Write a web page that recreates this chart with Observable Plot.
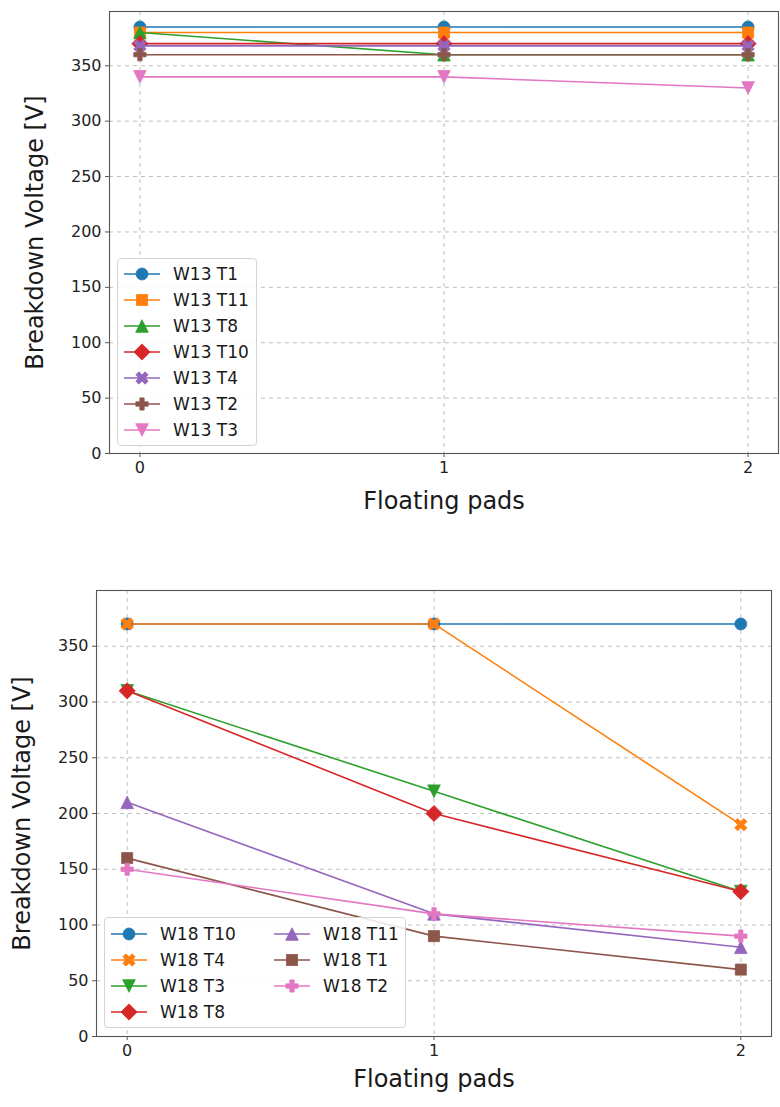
<!DOCTYPE html>
<html>
<head>
<meta charset="utf-8">
<script src="https://cdn.jsdelivr.net/npm/d3@7"></script>
<script src="https://cdn.jsdelivr.net/npm/@observablehq/plot@0.6"></script>
<style>
  html, body { margin: 0; padding: 0; background: white; }
  #root { position: relative; width: 780px; height: 1107px; font-family: "DejaVu Sans", sans-serif; }
  .panel { position: absolute; left: 0; }
  .legend { position: absolute; border: 1px solid #d4d4d4; border-radius: 4px; background: rgba(255,255,255,0.85); box-sizing: border-box; }
  .lrow { position: absolute; height: 24px; display: flex; align-items: center; font-size: 17px; color: #1a1a1a; white-space: nowrap; }
  .lrow svg { display: block; }
</style>
</head>
<body>
<div id="root"></div>
<script>
// ---------- data ----------
const floatingPads = [0, 1, 2];
const xTicks = [0, 1, 2];
const yTicks = [0, 50, 100, 150, 200, 250, 300, 350];
const yLabel = "Breakdown Voltage [V]";
const xLabel = "Floating pads";

const seriesColors = ["#1f77b4", "#ff7f0e", "#2ca02c", "#d62728", "#9467bd", "#8c564b", "#e377c2"];

const w13Names = ["W13 T1", "W13 T11", "W13 T8", "W13 T10", "W13 T4", "W13 T2", "W13 T3"];
const w13Values = [
  [385, 385, 385],
  [380, 380, 380],
  [380, 360, 360],
  [370, 370, 370],
  [368, 368, 368],
  [360, 360, 360],
  [340, 340, 330]
];
const w13Markers = ["circle", "square", "triangleUp", "diamond", "xFilled", "plusFilled", "triangleDown"];

const w18Names = ["W18 T10", "W18 T4", "W18 T3", "W18 T8", "W18 T11", "W18 T1", "W18 T2"];
const w18Values = [
  [370, 370, 370],
  [370, 370, 190],
  [310, 220, 130],
  [310, 200, 130],
  [210, 110, 80],
  [160, 90, 60],
  [150, 110, 90]
];
const w18Markers = ["circle", "xFilled", "triangleDown", "diamond", "triangleUp", "square", "plusFilled"];

// ---------- marker symbols (matplotlib-like) ----------
function sym(fn) { return { draw(ctx, size) { const R = Math.sqrt(size / Math.PI); fn(ctx, R); } }; }
function poly(ctx, pts) { ctx.moveTo(pts[0][0], pts[0][1]); for (let i = 1; i < pts.length; i++) ctx.lineTo(pts[i][0], pts[i][1]); ctx.closePath(); }
function plusPts(a, b) {
  return [[-a,-b],[a,-b],[a,-a],[b,-a],[b,a],[a,a],[a,b],[-a,b],[-a,a],[-b,a],[-b,-a],[-a,-a]];
}
const symbols = {
  circle: sym((c, R) => { c.moveTo(R, 0); c.arc(0, 0, R, 0, 2 * Math.PI); }),
  square: sym((c, R) => { const s = R * 0.92; poly(c, [[-s,-s],[s,-s],[s,s],[-s,s]]); }),
  triangleUp: sym((c, R) => { const h = R * 1.05; poly(c, [[0,-h],[h,h],[-h,h]]); }),
  triangleDown: sym((c, R) => { const h = R * 1.05; poly(c, [[0,h],[h,-h],[-h,-h]]); }),
  diamond: sym((c, R) => { const d = R * 1.35; poly(c, [[0,-d],[d,0],[0,d],[-d,0]]); }),
  plusFilled: sym((c, R) => { poly(c, plusPts(R * 0.36, R * 1.02)); }),
  xFilled: sym((c, R) => {
    const pts = plusPts(R * 0.36, R * 1.1).map(([x, y]) => [(x - y) * Math.SQRT1_2, (x + y) * Math.SQRT1_2]);
    poly(c, pts);
  })
};
const DOT_R = 6;

function panel(names, values, markers, opts) {
  const marks = [
    Plot.gridY(yTicks, { stroke: "#b8b8b8", strokeOpacity: 1, strokeDasharray: "4,4", strokeWidth: 0.9 }),
    Plot.gridX(xTicks, { stroke: "#b8b8b8", strokeOpacity: 1, strokeDasharray: "4,4", strokeWidth: 0.9 })
  ];
  names.forEach((name, i) => {
    const rows = floatingPads.map((p, j) => ({ pad: p, v: values[i][j], series: name }));
    marks.push(Plot.line(rows, { x: "pad", y: "v", stroke: seriesColors[i], strokeWidth: 1.6 }));
    marks.push(Plot.dot(rows, { x: "pad", y: "v", symbol: symbols[markers[i]], r: DOT_R, fill: seriesColors[i], stroke: seriesColors[i], strokeWidth: 0.8 }));
  });
  marks.push(
    Plot.frame({ stroke: "#555", strokeWidth: 1.1 }),
    Plot.axisY(yTicks, { tickSize: 4, tickPadding: 4, label: null, fontSize: 16, stroke: "#555", color: "#222" }),
    Plot.axisX(xTicks, { tickSize: 4, tickPadding: 4, label: null, fontSize: 16, tickFormat: d3.format("d"), stroke: "#555" }),
    Plot.text([yLabel], { frameAnchor: "left", textAnchor: "middle", dx: -74, rotate: -90, fontSize: 24, fill: "#1a1a1a" }),
    Plot.text([xLabel], { frameAnchor: "bottom", textAnchor: "middle", dy: opts.xLabelDy, fontSize: 24, fill: "#1a1a1a" })
  );
  return Plot.plot({
    width: 780,
    height: opts.height,
    marginLeft: opts.marginLeft,
    marginRight: opts.marginRight,
    marginTop: opts.marginTop,
    marginBottom: opts.marginBottom,
    x: { domain: [-0.1, 2.1] },
    y: { domain: [0, opts.yMax] },
    style: { fontFamily: "DejaVu Sans, sans-serif", fontSize: "16px", color: "#222", background: "white", overflow: "visible" },
    marks
  });
}

function legend(names, markers, box, rowStep, colStep, rowsPerCol) {
  const div = document.createElement("div");
  div.className = "legend";
  Object.assign(div.style, { left: box.left + "px", top: box.top + "px", width: box.width + "px", height: box.height + "px" });
  names.forEach((name, i) => {
    const col = Math.floor(i / rowsPerCol), row = i % rowsPerCol;
    const r = document.createElement("div");
    r.className = "lrow";
    r.style.left = (5 + col * colStep) + "px";
    r.style.top = (box.firstRow - 12 + row * rowStep) + "px";
    const p = d3.path();
    symbols[markers[i]].draw(p, DOT_R * DOT_R * Math.PI);
    const svg = d3.create("svg").attr("width", 50).attr("height", 24);
    svg.append("line").attr("x1", 1).attr("x2", 37).attr("y1", 12).attr("y2", 12).attr("stroke", seriesColors[i]).attr("stroke-width", 1.6);
    svg.append("path").attr("transform", "translate(19,12)").attr("d", p.toString()).attr("fill", seriesColors[i]).attr("stroke", seriesColors[i]).attr("stroke-width", 0.8);
    r.appendChild(svg.node());
    const t = document.createElement("span");
    t.textContent = name;
    r.appendChild(t);
    div.appendChild(r);
  });
  return div;
}

const root = document.getElementById("root");

const top1 = document.createElement("div");
top1.className = "panel"; top1.style.top = "0px";
top1.appendChild(panel(w13Names, w13Values, w13Markers, { height: 555, marginLeft: 109, marginRight: 2, marginTop: 11, marginBottom: 102, yMax: 399, xLabelDy: 55 }));
top1.appendChild(legend(w13Names, w13Markers, { left: 117, top: 258, width: 140, height: 188, firstRow: 14.5 }, 26, 0, 7));
root.appendChild(top1);

const bot = document.createElement("div");
bot.className = "panel"; bot.style.top = "555px";
bot.appendChild(panel(w18Names, w18Values, w18Markers, { height: 552, marginLeft: 96, marginRight: 9, marginTop: 35, marginBottom: 71, yMax: 400, xLabelDy: 50 }));
bot.appendChild(legend(w18Names, w18Markers, { left: 104, top: 362, width: 302, height: 111, firstRow: 16 }, 26, 163, 4));
root.appendChild(bot);
</script>
</body>
</html>
